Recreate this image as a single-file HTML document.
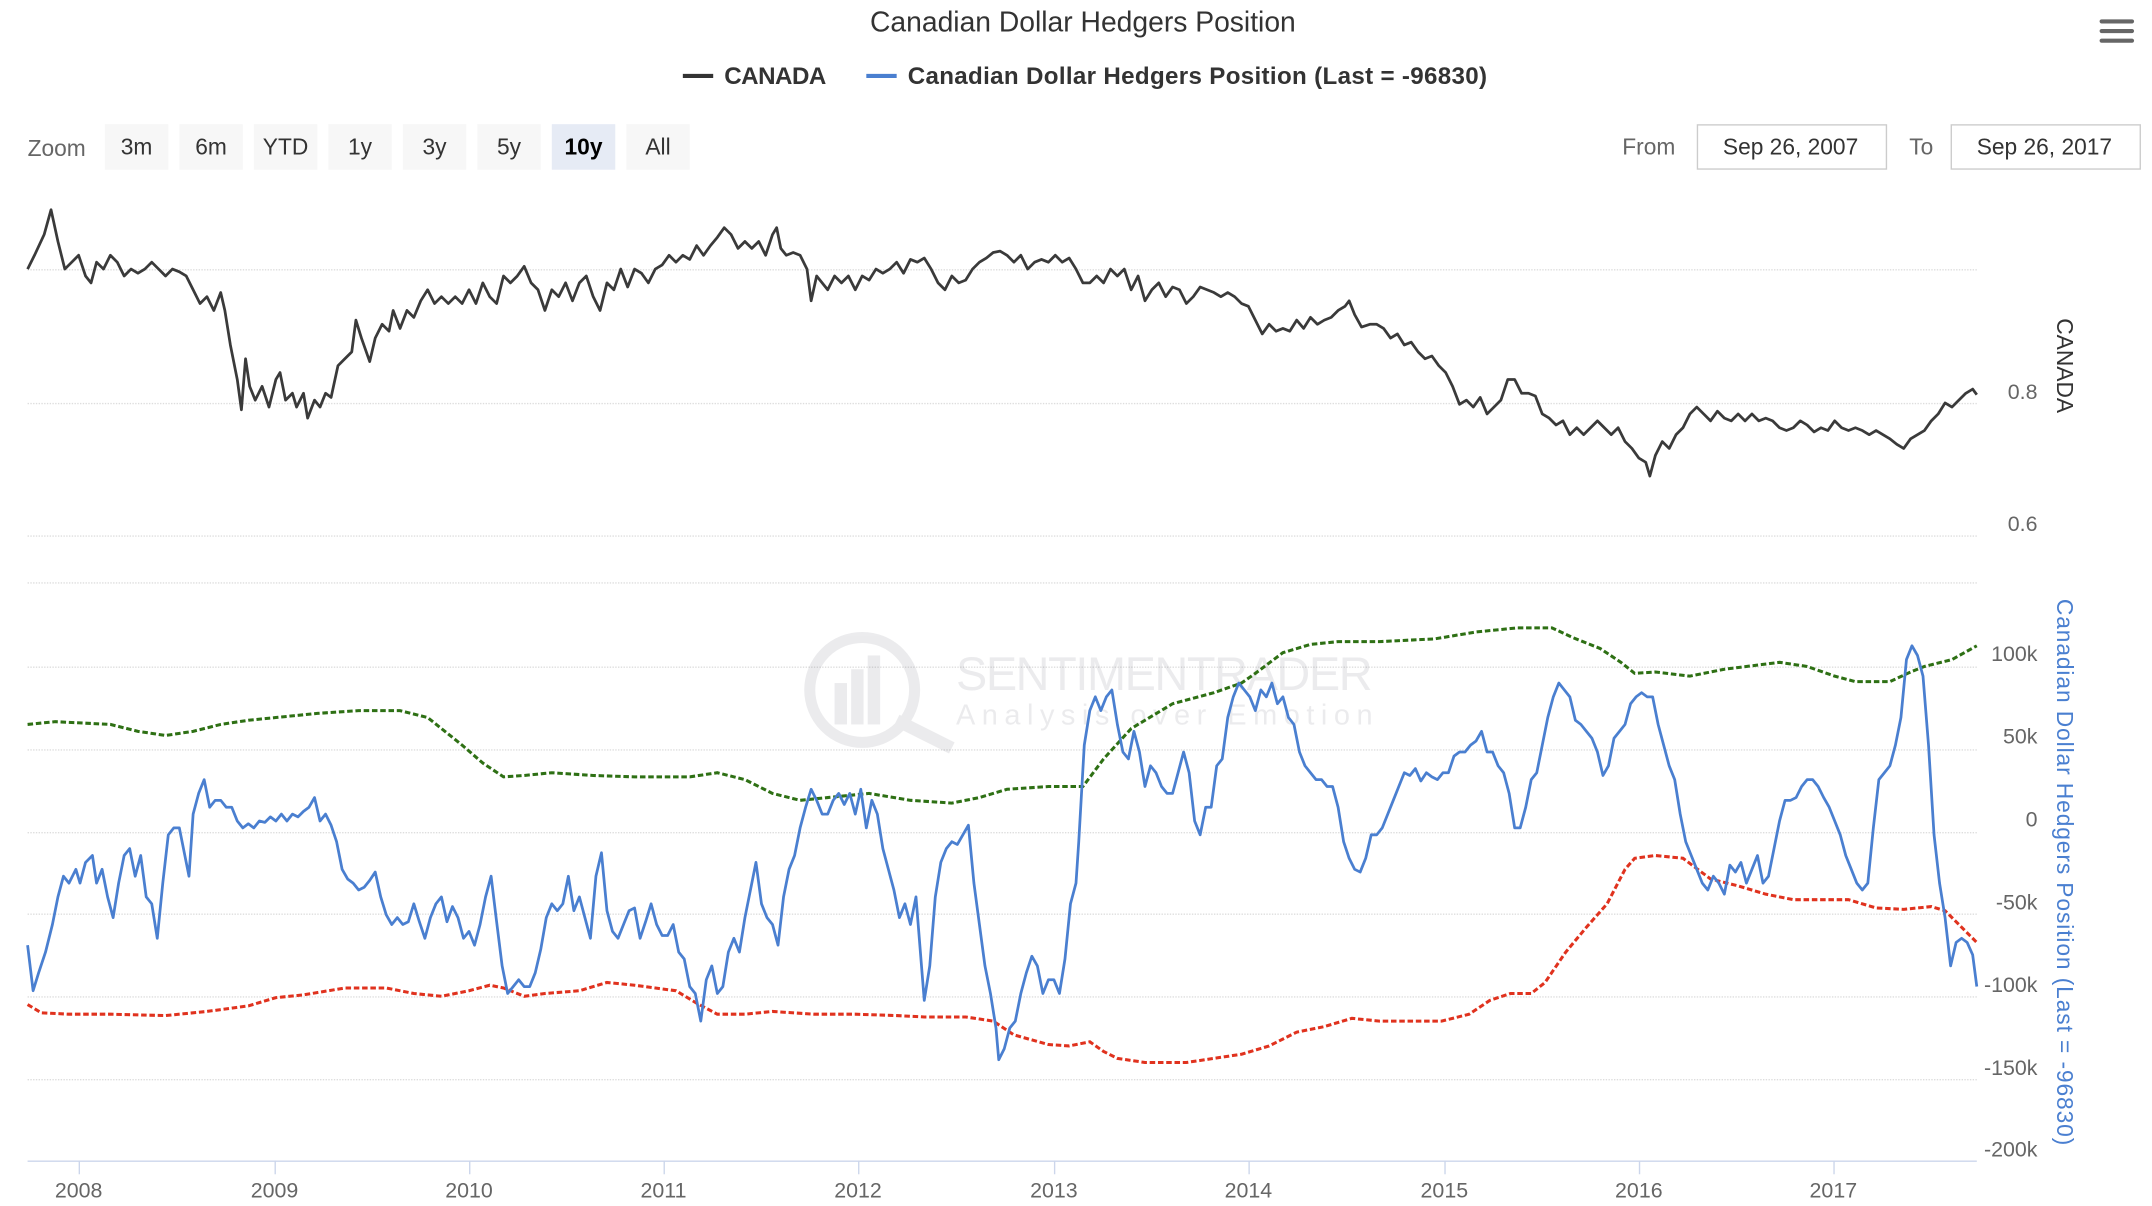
<!DOCTYPE html>
<html><head><meta charset="utf-8"><style>
html,body{margin:0;padding:0;background:#fff;}
svg{display:block;font-family:"Liberation Sans",sans-serif;}
</style></head><body>
<svg width="2152" height="1206" viewBox="0 0 1560 874" preserveAspectRatio="none" xmlns="http://www.w3.org/2000/svg">
<rect width="1560" height="874" fill="#fff"/>
<text x="785" y="23" text-anchor="middle" font-size="20.5" fill="#333">Canadian Dollar Hedgers Position</text>
<g fill="#666"><rect x="1522" y="14" width="25" height="3" rx="1.5"/><rect x="1522" y="21" width="25" height="3" rx="1.5"/><rect x="1522" y="28" width="25" height="3" rx="1.5"/></g>
<line x1="495" y1="55" x2="517" y2="55" stroke="#333" stroke-width="3"/>
<text x="525" y="61" font-size="17.5" font-weight="bold" fill="#333" textLength="74">CANADA</text>
<line x1="628" y1="55" x2="650" y2="55" stroke="#4a7fd0" stroke-width="3"/>
<text x="658" y="61" font-size="17.5" font-weight="bold" fill="#333" textLength="420">Canadian Dollar Hedgers Position (Last = -96830)</text>
<text x="20" y="113" font-size="16.5" fill="#666">Zoom</text>
<g font-size="16.5" text-anchor="middle" fill="#333">
<rect x="76" y="90" width="46" height="33" fill="#f7f7f7"/><text x="99" y="112">3m</text>
<rect x="130" y="90" width="46" height="33" fill="#f7f7f7"/><text x="153" y="112">6m</text>
<rect x="184" y="90" width="46" height="33" fill="#f7f7f7"/><text x="207" y="112">YTD</text>
<rect x="238" y="90" width="46" height="33" fill="#f7f7f7"/><text x="261" y="112">1y</text>
<rect x="292" y="90" width="46" height="33" fill="#f7f7f7"/><text x="315" y="112">3y</text>
<rect x="346" y="90" width="46" height="33" fill="#f7f7f7"/><text x="369" y="112">5y</text>
<rect x="400" y="90" width="46" height="33" fill="#e6ebf5"/><text x="423" y="112" font-weight="bold" fill="#000">10y</text>
<rect x="454" y="90" width="46" height="33" fill="#f7f7f7"/><text x="477" y="112">All</text>
</g>
<text x="1176" y="112" font-size="16.5" fill="#666">From</text>
<rect x="1230.5" y="90.5" width="137" height="32" fill="#fff" stroke="#ccc"/>
<text x="1298" y="112" font-size="16.5" fill="#333" text-anchor="middle">Sep 26, 2007</text>
<text x="1384" y="112" font-size="16.5" fill="#666">To</text>
<rect x="1414.5" y="90.5" width="137" height="32" fill="#fff" stroke="#ccc"/>
<text x="1482" y="112" font-size="16.5" fill="#333" text-anchor="middle">Sep 26, 2017</text>

<g stroke="#ddd" stroke-width="1" stroke-dasharray="1,1">
<line x1="20" y1="195.5" x2="1433" y2="195.5"/><line x1="20" y1="292.5" x2="1433" y2="292.5"/><line x1="20" y1="388.5" x2="1433" y2="388.5"/>
<line x1="20" y1="422.5" x2="1433" y2="422.5"/><line x1="20" y1="483.5" x2="1433" y2="483.5"/><line x1="20" y1="543.5" x2="1433" y2="543.5"/><line x1="20" y1="603.5" x2="1433" y2="603.5"/><line x1="20" y1="662.5" x2="1433" y2="662.5"/><line x1="20" y1="722.5" x2="1433" y2="722.5"/><line x1="20" y1="782.5" x2="1433" y2="782.5"/>
</g>
<line x1="20" y1="841.5" x2="1433" y2="841.5" stroke="#ccd6eb" stroke-width="1"/>
<g stroke="#ccd6eb"><line x1="57.5" y1="841" x2="57.5" y2="851"/><line x1="199.5" y1="841" x2="199.5" y2="851"/><line x1="340.5" y1="841" x2="340.5" y2="851"/><line x1="481.5" y1="841" x2="481.5" y2="851"/><line x1="622.5" y1="841" x2="622.5" y2="851"/><line x1="764.5" y1="841" x2="764.5" y2="851"/><line x1="905.5" y1="841" x2="905.5" y2="851"/><line x1="1047.5" y1="841" x2="1047.5" y2="851"/><line x1="1188.5" y1="841" x2="1188.5" y2="851"/><line x1="1329.5" y1="841" x2="1329.5" y2="851"/></g>
<g font-size="15.5" fill="#666" text-anchor="middle">
<text x="57" y="868">2008</text><text x="199" y="868">2009</text><text x="340" y="868">2010</text><text x="481" y="868">2011</text><text x="622" y="868">2012</text><text x="764" y="868">2013</text><text x="905" y="868">2014</text><text x="1047" y="868">2015</text><text x="1188" y="868">2016</text><text x="1329" y="868">2017</text>
</g>
<g font-size="15.5" fill="#666" text-anchor="end">
<text x="1477" y="289">0.8</text><text x="1477" y="385">0.6</text>
<text x="1477" y="479">100k</text><text x="1477" y="539">50k</text><text x="1477" y="599">0</text><text x="1477" y="659">-50k</text><text x="1477" y="719">-100k</text><text x="1477" y="779">-150k</text><text x="1477" y="838">-200k</text>
</g>
<text transform="translate(1491,265) rotate(90)" font-size="16.5" fill="#333" text-anchor="middle">CANADA</text>
<text transform="translate(1491,632) rotate(90)" font-size="16.5" fill="#4a7fd0" text-anchor="middle" textLength="396">Canadian Dollar Hedgers Position (Last = -96830)</text>

<g opacity="0.1" fill="#445">
<circle cx="625" cy="500" r="38" fill="none" stroke="#445" stroke-width="8"/>
<rect x="605" y="495" width="9" height="30"/><rect x="617" y="485" width="9" height="40"/><rect x="629" y="475" width="9" height="50"/>
<line x1="650" y1="522" x2="690" y2="542" stroke="#445" stroke-width="9"/>
<text x="693" y="500" font-size="34" textLength="302">SENTIMENTRADER</text>
<text x="693" y="525" font-size="21" textLength="302">Analysis over Emotion</text>
</g>

<polyline fill="none" stroke="#3a3a3a" stroke-width="2" stroke-linejoin="round" points="20,195 25,185 32,170 37,152 42,175 47,195 52,190 57,185 62,200 66,205 70,190 75,195 80,185 85,190 90,200 95,195 100,198 105,195 110,190 115,195 120,200 125,195 130,197 135,200 140,210 145,220 150,215 155,225 160,212 163,225 167,250 172,275 175,297 178,260 181,280 185,290 190,280 195,295 200,275 203,270 207,290 212,285 215,295 220,285 223,303 228,290 232,295 236,285 240,288 245,265 250,260 255,255 258,232 262,245 268,262 272,245 277,235 282,240 285,225 290,238 295,225 300,230 305,218 310,210 315,220 320,215 325,220 330,215 335,220 340,210 345,220 350,205 355,215 360,220 365,200 370,205 375,200 380,193 385,205 390,210 395,225 400,210 405,215 410,205 415,218 420,205 425,200 430,215 435,225 440,205 445,210 450,195 455,208 460,195 465,198 470,205 475,195 480,192 485,185 490,190 495,185 500,188 505,178 510,185 515,178 520,172 525,165 530,170 535,180 540,175 545,180 550,175 555,185 560,170 563,165 566,180 570,185 575,183 580,185 585,195 588,218 592,200 596,205 600,210 605,200 610,205 615,200 620,210 625,200 630,203 635,195 640,198 645,195 650,190 655,198 660,188 665,190 670,187 675,195 680,205 685,210 690,200 695,205 700,203 705,195 710,190 715,187 720,183 725,182 730,185 735,190 740,185 745,195 750,190 755,188 760,190 765,185 770,190 775,187 780,195 785,205 790,205 795,200 800,205 805,195 810,200 815,195 820,210 825,200 830,218 835,210 840,205 845,215 850,208 855,210 860,220 865,215 870,208 875,210 880,212 885,215 890,212 895,215 900,220 905,222 910,232 915,242 920,235 925,240 930,238 935,240 940,232 945,238 950,230 955,235 960,232 965,230 970,225 975,222 978,218 982,228 987,237 993,235 998,235 1003,238 1008,245 1013,242 1018,250 1023,248 1028,255 1033,260 1038,258 1043,265 1048,270 1053,280 1058,293 1063,290 1068,295 1073,288 1078,300 1083,295 1088,290 1093,275 1098,275 1103,285 1108,285 1113,287 1118,300 1123,303 1128,308 1133,305 1138,315 1143,310 1148,315 1153,310 1158,305 1163,310 1168,315 1173,310 1178,320 1183,325 1188,332 1193,335 1196,345 1200,330 1205,320 1210,325 1215,315 1220,310 1225,300 1230,295 1235,300 1240,305 1245,298 1250,303 1255,305 1260,300 1265,305 1270,300 1275,305 1280,303 1285,305 1290,310 1295,312 1300,310 1305,305 1310,308 1315,313 1320,310 1325,312 1330,305 1335,310 1340,312 1345,310 1350,312 1355,315 1360,312 1365,315 1370,318 1375,322 1380,325 1385,318 1390,315 1395,312 1400,305 1405,300 1410,292 1415,295 1420,290 1425,285 1430,282 1433,286"/>

<polyline fill="none" stroke="#2e7014" stroke-width="2.2" stroke-dasharray="4,2" points="20,525 40,523 60,524 80,525 100,530 120,533 140,530 160,525 180,522 200,520 230,517 260,515 290,515 310,520 320,528 335,540 350,553 365,563 380,562 400,560 430,562 460,563 500,563 520,560 540,565 560,575 580,580 600,578 630,575 660,580 690,582 710,578 730,572 760,570 785,570 800,550 820,528 850,510 880,502 900,495 910,488 930,473 950,467 970,465 1000,465 1040,463 1070,458 1100,455 1125,455 1140,462 1160,470 1175,480 1185,488 1200,487 1225,490 1250,485 1290,480 1310,483 1330,490 1345,494 1370,494 1385,487 1395,483 1415,478 1433,468"/>

<polyline fill="none" stroke="#e0321e" stroke-width="2.2" stroke-dasharray="4,2" points="20,728 30,734 50,735 80,735 120,736 150,733 180,729 200,723 220,721 250,716 280,716 300,720 320,722 340,718 355,714 365,716 380,722 395,720 420,718 440,712 460,714 490,718 505,727 520,735 540,735 560,733 590,735 620,735 650,736 670,737 700,737 720,740 735,750 760,757 775,758 790,755 800,762 810,767 830,770 860,770 900,764 920,758 940,748 960,744 980,738 1000,740 1045,740 1065,735 1080,725 1095,720 1110,720 1120,712 1135,690 1150,672 1165,655 1178,630 1185,622 1200,620 1220,622 1240,637 1260,642 1280,648 1300,652 1320,652 1340,652 1360,658 1380,659 1400,657 1410,660 1425,675 1433,683"/>

<polyline fill="none" stroke="#4a7fd0" stroke-width="2" stroke-linejoin="round" points="20,685 24,718 28,705 33,690 38,670 42,650 46,635 50,640 55,630 58,640 62,625 67,620 70,640 74,630 78,650 82,665 86,640 90,620 94,615 98,635 102,620 106,650 110,655 114,680 118,640 122,605 126,600 130,600 134,620 137,635 140,590 144,575 148,565 152,585 156,580 160,580 164,585 168,585 172,595 176,600 180,597 184,600 188,595 192,596 196,592 200,595 204,590 208,595 212,590 216,592 220,588 224,585 228,578 232,595 236,590 240,598 244,610 248,630 252,637 256,640 260,645 264,643 268,638 272,632 276,650 280,663 284,670 288,665 292,670 296,668 300,655 304,668 308,680 312,665 316,655 320,650 324,668 328,657 332,665 336,680 340,675 344,685 348,670 352,650 356,635 360,668 364,700 368,720 372,715 376,710 380,715 384,715 388,705 392,688 396,665 400,655 404,660 408,655 412,635 416,660 420,650 424,665 428,680 432,635 436,618 440,660 444,675 448,680 452,670 456,660 460,658 464,680 468,668 472,655 476,670 480,678 484,678 488,670 492,690 496,695 500,715 504,720 508,740 512,710 516,700 520,720 524,715 528,690 532,680 536,690 540,665 544,645 548,625 552,655 556,665 560,670 564,685 568,650 572,630 576,620 580,600 584,585 588,572 592,580 596,590 600,590 604,580 608,575 612,583 616,575 620,590 624,572 628,600 632,580 636,590 640,615 644,630 648,645 652,665 656,655 660,670 664,650 668,700 670,725 674,700 678,650 682,625 686,615 690,610 694,612 698,605 702,598 706,640 710,670 714,700 718,720 722,745 724,768 728,760 732,745 736,740 740,720 744,705 748,693 752,700 756,720 760,710 764,710 768,720 772,695 776,655 780,640 782,610 786,540 790,515 794,505 798,515 802,505 806,500 810,525 814,545 818,550 822,530 826,545 830,570 834,555 838,560 842,570 846,575 850,575 854,560 858,545 862,560 866,595 870,605 874,585 878,585 882,555 886,550 890,520 894,505 898,495 902,500 906,505 910,515 914,500 918,505 922,495 926,510 930,505 934,520 938,525 942,545 946,555 950,560 954,565 958,565 962,570 966,570 970,585 974,610 978,622 982,630 986,632 990,622 994,605 998,605 1002,600 1006,590 1010,580 1014,570 1018,560 1022,562 1026,557 1030,566 1034,560 1038,563 1042,565 1046,560 1050,560 1054,548 1058,545 1062,545 1066,540 1070,537 1074,530 1078,545 1082,545 1086,555 1090,560 1094,575 1098,600 1102,600 1106,585 1110,565 1114,560 1118,540 1122,520 1126,505 1130,495 1134,500 1138,505 1142,522 1146,525 1150,530 1154,535 1158,545 1162,562 1166,555 1170,535 1174,530 1178,525 1182,510 1186,505 1190,502 1194,505 1198,505 1202,525 1206,540 1210,555 1214,565 1218,590 1222,610 1226,620 1230,630 1234,640 1238,645 1242,635 1246,640 1250,648 1254,627 1258,632 1262,625 1266,640 1270,630 1274,620 1278,640 1282,635 1286,615 1290,595 1294,580 1298,580 1302,578 1306,570 1310,565 1314,565 1318,570 1322,578 1326,585 1330,595 1334,605 1338,620 1342,630 1346,640 1350,645 1354,640 1358,600 1362,565 1366,560 1370,555 1374,540 1378,520 1382,478 1386,468 1390,475 1394,490 1398,540 1402,605 1406,640 1410,665 1414,700 1418,683 1422,680 1426,683 1430,692 1433,715"/>
</svg>
</body></html>
